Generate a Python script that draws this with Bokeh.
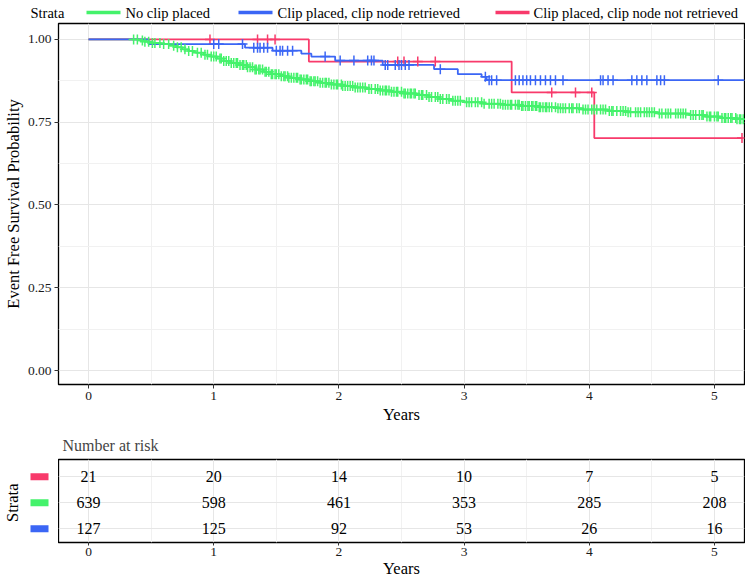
import numpy as np
from bokeh.plotting import figure
from bokeh.models import (Range1d, FixedTicker, PrintfTickFormatter, ColumnDataSource)
from bokeh.layouts import column, row
from bokeh.embed import file_html
from bokeh.resources import INLINE
from bokeh.core.properties import value

FONT = "Liberation Serif"
GREEN = "#44F26B"
BLUE = "#3B66F5"
RED = "#F83A6B"

strata_title = "Strata"
strata_labels = ["No clip placed", "Clip placed, clip node retrieved",
                 "Clip placed, clip node not retrieved"]
strata_colors = [GREEN, BLUE, RED]

# ---- Kaplan-Meier step curves ----
green_t = [0.0, 0.40, 0.45, 0.50, 0.58, 0.65, 0.70, 0.75, 0.80, 0.85, 0.92, 0.98, 1.03,
           1.08, 1.14, 1.20, 1.27, 1.33, 1.40, 1.46, 1.53, 1.60, 1.68, 1.76, 1.85, 1.94,
           2.03, 2.12, 2.22, 2.32, 2.42, 2.52, 2.62, 2.72, 2.80, 2.90, 3.00, 3.15, 3.30,
           3.45, 3.60, 3.75, 3.95, 4.15, 4.30, 4.55, 4.80, 4.92, 5.05, 5.18, 5.24]
green_s = [1.000, 0.997, 0.993, 0.989, 0.986, 0.981, 0.976, 0.970, 0.965, 0.960, 0.954,
           0.948, 0.942, 0.935, 0.929, 0.923, 0.916, 0.909, 0.902, 0.895, 0.889, 0.884,
           0.879, 0.874, 0.869, 0.864, 0.859, 0.855, 0.850, 0.846, 0.842, 0.837, 0.832,
           0.826, 0.820, 0.815, 0.810, 0.806, 0.803, 0.799, 0.795, 0.792, 0.788, 0.784,
           0.780, 0.776, 0.772, 0.767, 0.763, 0.759, 0.759]
green_cens = [0.36, 0.39, 0.43, 0.45, 0.48, 0.51, 0.53, 0.57, 0.60, 0.64, 0.68, 0.71, 0.74,
              0.77, 0.80, 0.83, 0.87, 0.90, 0.93, 0.95, 0.98, 1.00, 1.02, 1.05, 1.06, 1.08,
              1.10, 1.12, 1.14, 1.16, 1.18, 1.19, 1.21, 1.23, 1.24, 1.26, 1.27, 1.29, 1.31,
              1.33, 1.34, 1.36, 1.37, 1.39, 1.41, 1.42, 1.44, 1.46, 1.47, 1.49, 1.50, 1.52,
              1.54, 1.56, 1.57, 1.59, 1.60, 1.62, 1.64, 1.66, 1.67, 1.69, 1.70, 1.72, 1.74,
              1.75, 1.77, 1.78, 1.80, 1.81, 1.83, 1.85, 1.87, 1.89, 1.90, 1.92, 1.94, 1.96,
              1.98, 1.99, 2.02, 2.03, 2.05, 2.07, 2.09, 2.11, 2.13, 2.15, 2.17, 2.19, 2.21,
              2.24, 2.26, 2.29, 2.31, 2.33, 2.35, 2.37, 2.38, 2.40, 2.42, 2.44, 2.46, 2.47,
              2.50, 2.52, 2.53, 2.55, 2.57, 2.58, 2.60, 2.61, 2.64, 2.66, 2.67, 2.70, 2.72,
              2.74, 2.77, 2.79, 2.81, 2.83, 2.86, 2.88, 2.91, 2.93, 2.95, 2.97, 3.02, 3.04,
              3.06, 3.09, 3.11, 3.14, 3.16, 3.20, 3.22, 3.24, 3.27, 3.29, 3.31, 3.33, 3.35,
              3.37, 3.38, 3.41, 3.43, 3.44, 3.46, 3.47, 3.49, 3.51, 3.52, 3.54, 3.55, 3.57,
              3.58, 3.60, 3.61, 3.63, 3.65, 3.66, 3.68, 3.70, 3.73, 3.75, 3.77, 3.79, 3.81,
              3.84, 3.86, 3.87, 3.90, 3.92, 3.95, 3.97, 3.99, 4.02, 4.04, 4.06, 4.09, 4.11,
              4.13, 4.16, 4.18, 4.19, 4.22, 4.25, 4.27, 4.29, 4.31, 4.33, 4.37, 4.39, 4.41,
              4.44, 4.46, 4.48, 4.50, 4.52, 4.56, 4.58, 4.61, 4.63, 4.65, 4.69, 4.71, 4.73,
              4.75, 4.77, 4.81, 4.83, 4.85, 4.88, 4.90, 4.91, 4.94, 4.96, 4.97, 5.00, 5.02,
              5.03, 5.06, 5.08, 5.09, 5.11, 5.13, 5.14, 5.17, 5.18, 5.20, 5.21, 5.23]

blue_t = [0.0, 0.48, 1.25, 1.47, 1.70, 1.78, 1.97, 2.35, 2.76, 2.95, 3.14, 3.18, 5.24]
blue_s = [1.000, 0.986, 0.975, 0.966, 0.957, 0.948, 0.936, 0.923, 0.910, 0.895, 0.887,
          0.877, 0.877]
blue_cens = [1.00, 1.04, 1.23, 1.32, 1.35, 1.37, 1.40, 1.43, 1.50, 1.53, 1.55, 1.59, 1.63,
             1.89, 2.01, 2.12, 2.23, 2.26, 2.28, 2.37, 2.39, 2.45, 2.48, 2.50, 2.53, 2.56,
             2.81, 3.17, 3.20, 3.22, 3.26, 3.41, 3.44, 3.47, 3.50, 3.53, 3.57, 3.61, 3.65,
             3.69, 3.73, 3.79, 4.09, 4.11, 4.15, 4.19, 4.34, 4.38, 4.42, 4.46, 4.54, 4.57,
             4.60, 5.03]

red_t = [0.0, 1.76, 3.38, 4.04, 5.22]
red_s = [1.000, 0.933, 0.840, 0.702, 0.702]
red_cens = [0.97, 1.35, 1.43, 1.49, 2.47, 2.52, 2.63, 2.77, 3.70, 3.89, 4.02, 5.22]

# ---- Number at risk ----
risk_times = [0, 1, 2, 3, 4, 5]
risk_red = [21, 20, 14, 10, 7, 5]
risk_green = [639, 598, 461, 353, 285, 208]
risk_blue = [127, 125, 92, 53, 26, 16]

x_ticks = [0, 1, 2, 3, 4, 5]
x_minor = [0.5, 1.5, 2.5, 3.5, 4.5]
y_ticks = [0.0, 0.25, 0.5, 0.75, 1.0]
y_minor = [0.125, 0.375, 0.625, 0.875]

TOTAL_W = 745
LEFT = 58


def surv_at(times, surv, cens):
    idx = np.searchsorted(np.array(times), np.array(cens), side="right") - 1
    return [surv[i] for i in idx]


def style_axes(p):
    for ax in p.axis:
        ax.major_label_text_font = FONT
        ax.major_label_text_font_size = "13.5px"
        ax.major_label_text_color = "#1a1a1a"
        ax.axis_label_text_font = FONT
        ax.axis_label_text_font_size = "16.5px"
        ax.axis_label_text_font_style = "normal"
        ax.axis_label_text_color = "black"
        ax.axis_line_color = None
        ax.major_tick_line_color = "#333333"
        ax.major_tick_out = 4
        ax.major_tick_in = 0
        ax.minor_tick_line_color = None
    p.outline_line_color = "black"
    p.outline_line_width = 1.3
    p.background_fill_color = "white"
    for g in p.grid:
        g.grid_line_color = "#E6E6E6"
        g.grid_line_width = 1
        g.minor_grid_line_color = "#F1F1F1"
        g.minor_grid_line_width = 1


# ================= Legend strip =================
H0 = 22
pl = figure(width=TOTAL_W, height=H0, x_range=Range1d(0, TOTAL_W), y_range=Range1d(H0, 0),
            output_backend="svg", toolbar_location=None, x_axis_type=None, y_axis_type=None,
            min_border=0)
try:
    pl.frame_align = False
except Exception:
    pass
pl.outline_line_color = None
leg_text_x = [30, 125, 277, 533]
leg_line_x0 = [86, 238, 495]
leg_line_x1 = [120, 272, 529]
pl.text(x=[leg_text_x[0]], y=[12], text=[strata_title], text_font=value(FONT),
        text_font_size="14.5px", text_align="left", text_baseline="middle", text_color="black")
pl.segment(x0=leg_line_x0, y0=[12] * 3, x1=leg_line_x1, y1=[12] * 3,
           line_color=strata_colors, line_width=3.5)
pl.text(x=leg_text_x[1:], y=[12] * 3, text=strata_labels, text_font=value(FONT),
        text_font_size="14.5px", text_align="left", text_baseline="middle", text_color="black")

# ================= Main KM plot =================
H1 = 406
p1 = figure(width=TOTAL_W, height=H1, x_range=Range1d(-0.24, 5.24),
            y_range=Range1d(-0.042, 1.048),
            output_backend="svg", toolbar_location=None,
            min_border_left=LEFT, min_border_right=1, min_border_top=1, min_border_bottom=44)
p1.xaxis.ticker = FixedTicker(ticks=x_ticks, minor_ticks=x_minor)
p1.yaxis.ticker = FixedTicker(ticks=y_ticks, minor_ticks=y_minor)
p1.yaxis.formatter = PrintfTickFormatter(format="%.2f")
p1.xaxis.axis_label = "Years"
p1.yaxis.axis_label = "Event Free Survival Probability"
style_axes(p1)
p1.xaxis.major_label_standoff = 3
p1.xaxis.axis_label_standoff = 2
p1.yaxis.major_label_standoff = 3
p1.yaxis.axis_label_standoff = 2

LW = 1.8
p1.step(green_t, green_s, mode="after", line_color=GREEN, line_width=LW)
p1.step(red_t, red_s, mode="after", line_color=RED, line_width=LW)
p1.step(blue_t, blue_s, mode="after", line_color=BLUE, line_width=LW)

p1.scatter(green_cens, surv_at(green_t, green_s, green_cens), marker="cross", size=10,
           line_color=GREEN, line_width=1.5)
p1.scatter(red_cens, surv_at(red_t, red_s, red_cens), marker="cross", size=10,
           line_color=RED, line_width=1.5)
p1.scatter(blue_cens, surv_at(blue_t, blue_s, blue_cens), marker="cross", size=10,
           line_color=BLUE, line_width=1.5)

# ================= Risk table =================
H2 = 152
TOP2, BOT2 = 30, 38
p2 = figure(width=TOTAL_W - LEFT, height=H2, x_range=p1.x_range,
            y_range=Range1d(0.475, 3.66),
            output_backend="svg", toolbar_location=None, title="Number at risk",
            min_border_left=0, min_border_right=1, min_border_top=TOP2, min_border_bottom=BOT2)
p2.title.text_font = FONT
p2.title.text_font_size = "16px"
p2.title.text_font_style = "normal"
p2.title.offset = 4
p2.title.standoff = 12
p2.xaxis.ticker = FixedTicker(ticks=x_ticks, minor_ticks=x_minor)
p2.yaxis.ticker = FixedTicker(ticks=[1, 2, 3])
p2.xaxis.axis_label = "Years"
style_axes(p2)
p2.xaxis.major_tick_out = 3
p2.xaxis.major_label_standoff = 1
p2.xaxis.axis_label_standoff = 0
p2.yaxis.visible = False
p2.ygrid.ticker = FixedTicker(ticks=[1, 2, 3])

rows = [(risk_red, 3), (risk_green, 2), (risk_blue, 1)]
for counts, yrow in rows:
    src = ColumnDataSource(dict(x=risk_times, y=[yrow] * len(risk_times),
                                t=[str(c) for c in counts]))
    p2.text(x="x", y="y", text="t", source=src, text_font=value(FONT),
            text_font_size="16px", text_align="center", text_baseline="middle",
            text_color="black")

# swatch / strata label column left of the risk table
ps = figure(width=LEFT, height=H2, x_range=Range1d(0, LEFT), y_range=p2.y_range,
            output_backend="svg", toolbar_location=None, x_axis_type=None, y_axis_type=None,
            min_border_left=0, min_border_right=0, min_border_top=TOP2, min_border_bottom=BOT2)
ps.outline_line_color = None
ps.rect(x=[39, 39, 39], y=[3, 2, 1], width=18, height=7, height_units="screen",
        fill_color=[RED, GREEN, BLUE], line_color=None)
ps.text(x=[12], y=[2], text=[strata_title], angle=np.pi / 2, text_font=value(FONT),
        text_font_size="16.5px", text_align="center", text_baseline="middle",
        text_color="black")

layout = column(row(pl), p1, row(ps, p2, spacing=0), spacing=0)
open("out.html", "w").write(file_html(layout, INLINE))
